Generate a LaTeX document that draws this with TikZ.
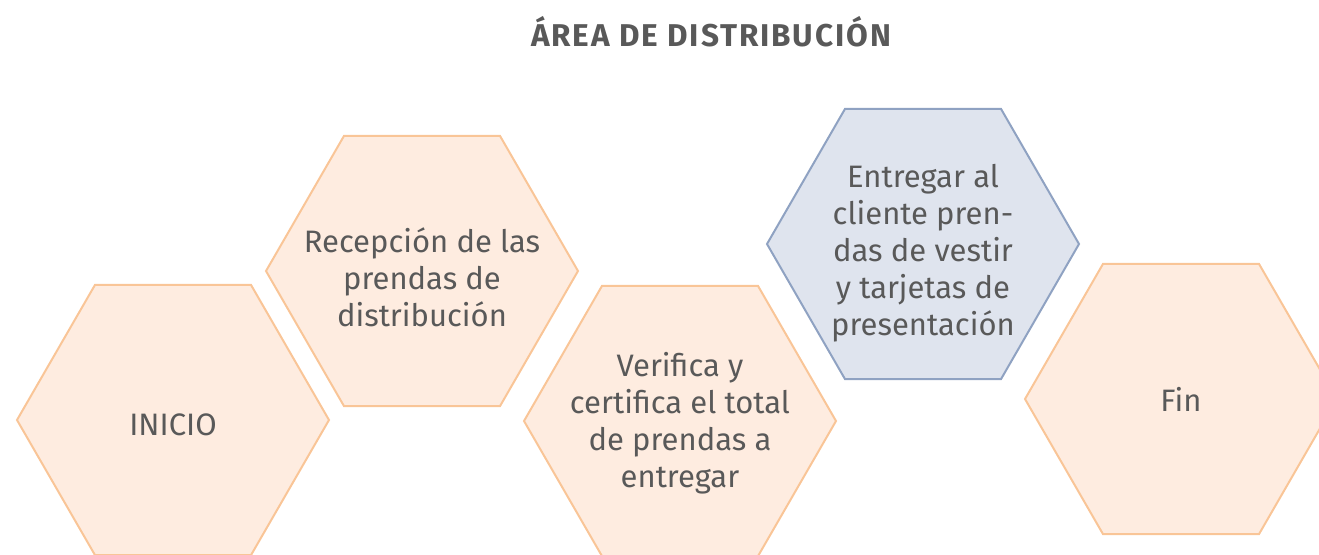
\documentclass[tikz,border=0pt]{standalone}
\usepackage{fontspec}
\setmainfont{Fira Sans}[BoldFont=* Bold]
\usetikzlibrary{shapes.geometric}
\definecolor{peachfill}{HTML}{FEECE0}
\definecolor{peachline}{HTML}{F9C597}
\definecolor{bluefill}{HTML}{DFE4EE}
\definecolor{blueline}{HTML}{8FA2C2}
\definecolor{txtgrey}{HTML}{595959}
\tikzset{
  hexa/.style={regular polygon, regular polygon sides=6, minimum size=312pt,
    inner sep=0pt, line width=2pt},
  peachhex/.style={hexa, draw=peachline, fill=peachfill},
  bluehex/.style={hexa, draw=blueline, fill=bluefill},
  hextext/.style={align=center, text=txtgrey, inner sep=0pt,
    font=\fontsize{31}{37}\selectfont},
  titletext/.style={font=\bfseries\fontsize{31.5}{36}\selectfont\addfontfeatures{LetterSpace=6}, text=txtgrey}
}
\begin{document}
\begin{tikzpicture}[x=1pt,y=-1pt]
\useasboundingbox (0,0) rectangle (1319,554);
\clip (0,0) rectangle (1319,554);
\node[titletext] (title) at (711,32) {ÁREA DE DISTRIBUCIÓN};
\node[peachhex] (inicio) at (173,420) {};
\node[peachhex] (recep) at (422,271) {};
\node[peachhex] (verif) at (680,421) {};
\node[bluehex] (entreg) at (923,244) {};
\node[peachhex] (fin) at (1181,399) {};
\node[hextext] (inicioT) at (173,425) {INICIO};
\node[hextext] (recepT) at (422,277) {Recepción de las\\prendas de\\distribución};
\node[hextext] (verifT) at (680,423) {Verifica y\\certifica el total\\de prendas a\\entregar};
\node[hextext] (entregT) at (923,253) {Entregar al\\cliente pren-\\das de vestir\\y tarjetas de\\presentación};
\node[hextext] (finT) at (1181,399) {Fin};
\end{tikzpicture}
\end{document}
